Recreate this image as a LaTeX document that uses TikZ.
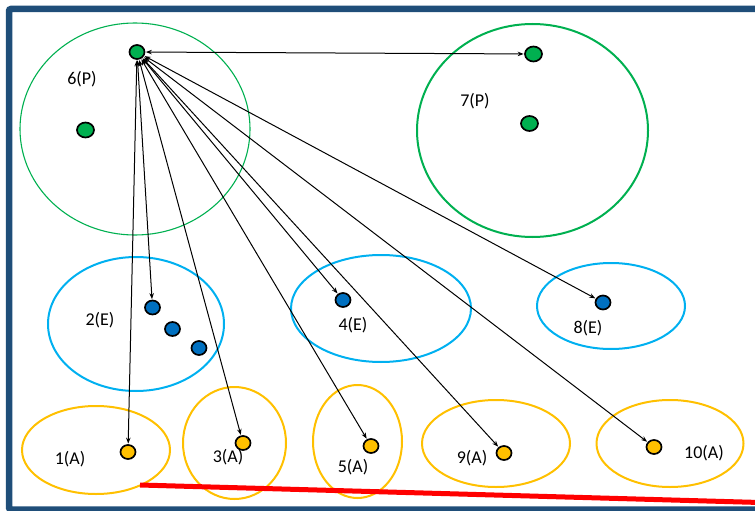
\documentclass[tikz,border=0pt]{standalone}
\usepackage{fontspec}
\setmainfont{Carlito}
\usetikzlibrary{arrows.meta,shapes.geometric}
\definecolor{frameblue}{HTML}{1F4E79}
\definecolor{pgreen}{HTML}{00B050}
\definecolor{eblue}{HTML}{00B0F0}
\definecolor{edot}{HTML}{0070C0}
\definecolor{ayel}{HTML}{FFC000}
\tikzset{
  grp/.style={draw, ellipse, inner sep=0pt},
  dot/.style={draw=black, line width=1.7pt, ellipse, minimum width=15pt, minimum height=14pt, inner sep=0pt},
  pdot/.style={dot, fill=pgreen},
  edotst/.style={dot, fill=edot},
  adot/.style={dot, fill=ayel},
  lbl/.style={font=\fontsize{18}{20}\selectfont, inner sep=0pt},
  link/.style={line width=1pt, {Stealth[length=6pt,width=4.5pt]}-{Stealth[length=6pt,width=4.5pt]}, shorten <=0.5pt, shorten >=0.5pt}
}
\begin{document}
\begin{tikzpicture}[x=1pt,y=-1pt]
\useasboundingbox (0,0) rectangle (755,511);
\begin{scope}
\clip (0,0) rectangle (755,511);
\draw[frameblue, line width=6.5pt, rounded corners=2pt] (9,9) rectangle (780,509.5);
\end{scope}
% group ellipses
\node[grp, pgreen, line width=1.1pt, minimum width=230pt, minimum height=212pt] (g6) at (135,129) {};
\node[grp, pgreen, line width=2pt, minimum width=231pt, minimum height=213pt] (g7) at (532.5,130.5) {};
\node[grp, eblue, line width=2pt, minimum width=176pt, minimum height=134pt] (g2) at (136,324) {};
\node[grp, eblue, line width=2pt, minimum width=180pt, minimum height=107pt] (g4) at (381,308.5) {};
\node[grp, eblue, line width=2pt, minimum width=148pt, minimum height=86pt] (g8) at (611,306) {};
\node[grp, ayel, line width=2pt, minimum width=148pt, minimum height=88pt] (g1) at (96,450) {};
\node[grp, ayel, line width=2pt, minimum width=103pt, minimum height=112pt] (g3) at (234.5,443) {};
\node[grp, ayel, line width=2pt, minimum width=89pt, minimum height=113pt] (g5) at (357.5,441.5) {};
\node[grp, ayel, line width=2pt, minimum width=148pt, minimum height=87pt] (g9) at (496,443.5) {};
\node[grp, ayel, line width=2pt, minimum width=147pt, minimum height=87pt] (g10) at (670,443.5) {};
% red line
\coordinate (r1) at (140,485);
\coordinate (r2) at (760,502.5);
\draw[red, line width=5pt] (r1) -- (r2);
% dots
\node[pdot] (p6a) at (137,52) {};
\node[pdot, minimum width=17pt, minimum height=15pt] (p6b) at (85.5,130) {};
\node[pdot, minimum width=17pt, minimum height=15pt] (p7a) at (533.5,54) {};
\node[pdot, minimum width=17pt, minimum height=15pt] (p7b) at (529.5,123.5) {};
\node[edotst] (e2a) at (152.5,307.5) {};
\node[edotst] (e2b) at (172.5,329) {};
\node[edotst] (e2c) at (199,348) {};
\node[edotst] (e4) at (343,300) {};
\node[edotst] (e8) at (603,302.5) {};
\node[adot] (a1) at (128,452) {};
\node[adot] (a3) at (243,443) {};
\node[adot] (a5) at (371,446) {};
\node[adot] (a9) at (504,453) {};
\node[adot] (a10) at (654,447) {};
% labels
\node[lbl] (l6) at (82,79) {6(P)};
\node[lbl] (l7) at (475,101) {7(P)};
\node[lbl] (l2) at (100,320) {2(E)};
\node[lbl] (l4) at (353,325) {4(E)};
\node[lbl] (l8) at (588,328) {8(E)};
\node[lbl] (l1) at (70,459) {1(A)};
\node[lbl] (l3) at (228,457) {3(A)};
\node[lbl] (l5) at (353,467) {5(A)};
\node[lbl] (l9) at (472,458) {9(A)};
\node[lbl] (l10) at (704,453) {10(A)};
% links
\foreach \t in {p7a,a1,e2a,a3,a5,e4,a9,a10,e8}
  \draw[link] (p6a) -- (\t);
\end{tikzpicture}
\end{document}
